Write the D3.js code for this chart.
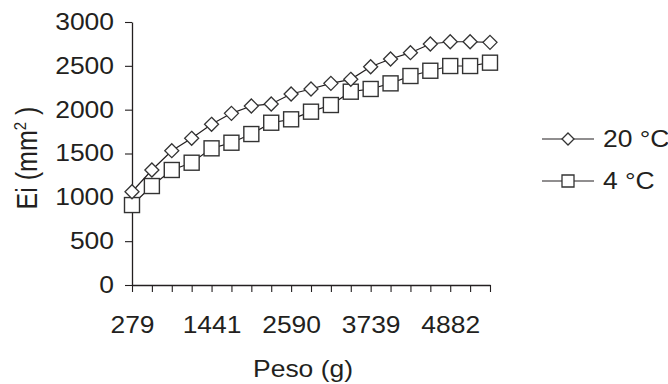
<!DOCTYPE html>
<html>
<head>
<meta charset="utf-8">
<script src="https://cdn.jsdelivr.net/npm/d3@7"></script>
<style>
  body { margin: 0; background: #fff; }
  svg { display: block; font-family: "Liberation Sans", Arial, sans-serif; }
</style>
</head>
<body>
<svg id="chart" width="668" height="384"></svg>
<script>
// weights (g) - only every 4th is labelled on the axis
var pesos = [279, 570, 860, 1150, 1441, 1728, 2015, 2303, 2590, 2877, 3165, 3452, 3739, 4025, 4311, 4596, 4882, 5168, 5454];
var shownLabels = ["279", "1441", "2590", "3739", "4882"];
var ei20 = [1064, 1312, 1532, 1673, 1833, 1958, 2042, 2065, 2179, 2236, 2300, 2346, 2490, 2578, 2650, 2749, 2775, 2775, 2768];
var ei4 = [912, 1129, 1312, 1395, 1559, 1623, 1722, 1851, 1890, 1977, 2053, 2205, 2236, 2300, 2384, 2444, 2498, 2498, 2536];
var seriesNames = ["20 °C", "4 °C"];
var yTicks = [0, 500, 1000, 1500, 2000, 2500, 3000];

var attr = {
  left: 132, right: 490, top: 22, bottom: 285,
  fontSize: 23,
  stretch: 1.15,
  ink: "#231f20"
};

var svg = d3.select("#chart");

var x = d3.scalePoint().domain(pesos).range([attr.left, attr.right]);
var y = d3.scaleLinear().domain([0, 3000]).range([attr.bottom, attr.top]);

// y axis
var yAxis = svg.append("g")
  .attr("transform", "translate(" + attr.left + ",0)")
  .call(d3.axisLeft(y).tickValues(yTicks).tickFormat(d3.format("d"))
    .tickSize(7).tickPadding(11).tickSizeOuter(0));

// x axis
var xAxis = svg.append("g")
  .attr("transform", "translate(0," + attr.bottom + ")")
  .call(d3.axisBottom(x).tickSize(7).tickPadding(25).tickSizeOuter(0)
    .tickFormat(d => shownLabels.indexOf(String(d)) >= 0 ? d : ""));

[yAxis, xAxis].forEach(function(ax) {
  ax.select(".domain").attr("stroke", attr.ink).attr("stroke-width", 1.3);
  ax.selectAll(".tick line").attr("stroke", attr.ink).attr("stroke-width", 1.1);
  ax.selectAll(".tick text")
    .attr("fill", attr.ink)
    .style("font-size", attr.fontSize + "px")
    .style("font-family", "Liberation Sans, Arial, sans-serif");
});

// stretch labels a bit horizontally like the source
yAxis.selectAll(".tick text").each(function() {
  var t = d3.select(this);
  var tx = +t.attr("x");
  t.attr("x", tx / attr.stretch).attr("transform", "scale(" + attr.stretch + ",1)");
});
xAxis.selectAll(".tick text").attr("transform", "scale(" + attr.stretch + ",1)");

// axis titles
svg.append("text")
  .attr("transform", "translate(" + 303 + "," + 377 + ") scale(" + attr.stretch + ",1)")
  .attr("text-anchor", "middle")
  .attr("fill", attr.ink)
  .style("font-size", attr.fontSize + "px")
  .text("Peso (g)");

var yTitle = svg.append("text")
  .attr("transform", "translate(37,158) rotate(-90) scale(1," + attr.stretch + ")")
  .attr("text-anchor", "middle")
  .attr("fill", attr.ink)
  .style("font-size", "25px");
yTitle.append("tspan").text("Ei (mm");
yTitle.append("tspan").attr("dy", -10).style("font-size", "15px").text("2");
yTitle.append("tspan").attr("dy", 10).text(" )");

var line = d3.line().x((d, i) => x(pesos[i])).y(d => y(d));

var diamond = function(cx, cy, r) {
  return "M" + cx + "," + (cy - r) + "L" + (cx + r) + "," + cy + "L" + cx + "," + (cy + r) + "L" + (cx - r) + "," + cy + "Z";
};

// 4 °C series (squares)
svg.append("path")
  .datum(ei4)
  .attr("d", line)
  .attr("fill", "none")
  .attr("stroke", attr.ink)
  .attr("stroke-width", 1.2);

svg.selectAll(".sq")
  .data(ei4)
  .enter().append("rect")
  .attr("class", "sq")
  .attr("x", (d, i) => x(pesos[i]) - 7.5)
  .attr("y", d => y(d) - 7.5)
  .attr("width", 15)
  .attr("height", 15)
  .attr("fill", "#fff")
  .attr("stroke", "#333")
  .attr("stroke-width", 1.4);

// 20 °C series (diamonds)
svg.append("path")
  .datum(ei20)
  .attr("d", line)
  .attr("fill", "none")
  .attr("stroke", attr.ink)
  .attr("stroke-width", 1.2);

svg.selectAll(".dm")
  .data(ei20)
  .enter().append("path")
  .attr("class", "dm")
  .attr("d", (d, i) => diamond(x(pesos[i]), y(d), 7))
  .attr("fill", "#fff")
  .attr("stroke", "#333")
  .attr("stroke-width", 1.3);

// legend
var legend = svg.selectAll(".legend")
  .data(seriesNames)
  .enter().append("g")
  .attr("class", "legend")
  .attr("transform", (d, i) => "translate(542," + (139 + i * 42) + ")");

legend.append("line")
  .attr("x1", 0).attr("x2", 52)
  .attr("stroke", attr.ink)
  .attr("stroke-width", 1.2);

legend.append("path")
  .attr("d", (d, i) => i == 0 ? diamond(26, 0, 6) : "M20,-6h12v12h-12Z")
  .attr("fill", "#fff")
  .attr("stroke", "#333")
  .attr("stroke-width", 1.3);

legend.append("text")
  .attr("transform", "translate(61,8) scale(" + attr.stretch + ",1)")
  .attr("fill", attr.ink)
  .style("font-size", attr.fontSize + "px")
  .text(d => d);
</script>
</body>
</html>
